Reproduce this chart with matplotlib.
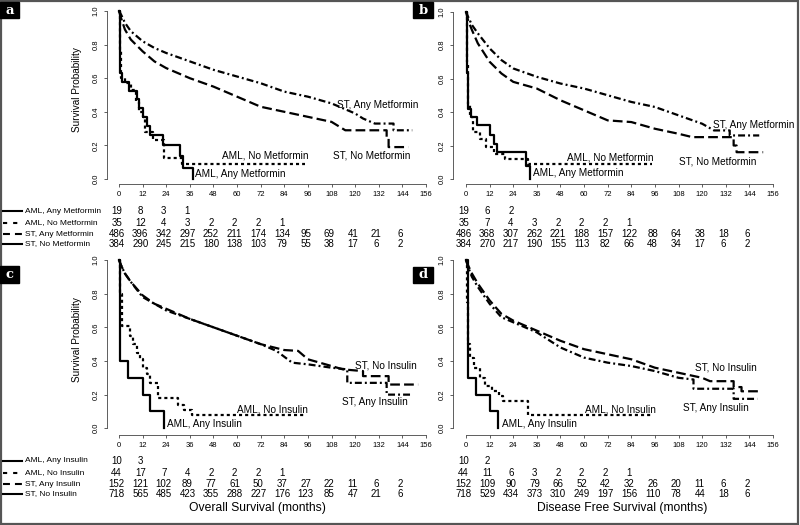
import matplotlib
matplotlib.use('Agg')
import matplotlib.pyplot as plt
from matplotlib import transforms
from matplotlib.lines import Line2D
from matplotlib.patches import Rectangle

plt.rcParams['font.family'] = ['Liberation Sans', 'DejaVu Sans']
plt.rcParams['lines.scale_dashes'] = False

months = list(range(0, 157, 12))
surv_ticks = [0.0, 0.2, 0.4, 0.6, 0.8, 1.0]

met_groups = ['AML, Any Metformin', 'AML, No Metformin', 'ST, Any Metformin', 'ST, No Metformin']
ins_groups = ['AML, Any Insulin', 'AML, No Insulin', 'ST, Any Insulin', 'ST, No Insulin']

# ---- panel a: overall survival, metformin
a_aml_any_t = [0, 0.3, 0.6, 1.5, 5, 9, 10.3, 12, 14, 16, 22.5, 31, 32.3, 37.4]
a_aml_any_s = [1, 0.84, 0.632, 0.579, 0.526, 0.474, 0.421, 0.368, 0.316, 0.263, 0.205, 0.137, 0.068, 0.0]
a_aml_no_t = [0, 0.4, 1, 3, 6, 8.5, 10, 12, 13, 17.5, 22.7, 32, 94.5]
a_aml_no_s = [1, 0.77, 0.6, 0.57, 0.53, 0.46, 0.40, 0.37, 0.28, 0.23, 0.125, 0.09, 0.09]
a_st_any_t = [0, 1, 3, 6, 12, 18, 24, 36, 48, 60, 72, 84, 96, 108, 120, 124, 130, 139.5, 139.5, 149]
a_st_any_s = [1, 0.98, 0.93, 0.88, 0.82, 0.78, 0.75, 0.70, 0.65, 0.61, 0.57, 0.52, 0.49, 0.45, 0.39, 0.36, 0.33, 0.33, 0.29, 0.29]
a_st_no_t = [0, 1, 3, 6, 12, 18, 24, 36, 48, 60, 72, 84, 96, 108, 115, 136, 136, 137, 137, 147]
a_st_no_s = [1, 0.96, 0.89, 0.83, 0.76, 0.70, 0.66, 0.60, 0.55, 0.49, 0.43, 0.40, 0.37, 0.34, 0.29, 0.29, 0.24, 0.24, 0.19, 0.19]
a_risk = [[19, 8, 3, 1],
          [35, 12, 4, 3, 2, 2, 2, 1],
          [486, 396, 342, 297, 252, 211, 174, 134, 95, 69, 41, 21, 6],
          [384, 290, 245, 215, 180, 138, 103, 79, 55, 38, 17, 6, 2]]

# ---- panel b: disease free survival, metformin
b_aml_any_t = [0, 0.5, 1.2, 2.4, 5.4, 12.2, 14.4, 16, 30.5, 32.5]
b_aml_any_s = [1, 0.63, 0.42, 0.37, 0.32, 0.26, 0.21, 0.16, 0.08, 0.0]
b_aml_no_t = [0, 0.5, 1, 2, 3.5, 7, 10, 14, 20, 31.5, 94.5]
b_aml_no_s = [1, 0.7, 0.45, 0.37, 0.28, 0.24, 0.19, 0.15, 0.12, 0.09, 0.09]
b_st_any_t = [0, 1, 3, 6, 12, 18, 24, 36, 48, 60, 72, 84, 96, 108, 120, 126, 134, 134, 149]
b_st_any_s = [1, 0.97, 0.92, 0.87, 0.78, 0.71, 0.66, 0.61, 0.57, 0.54, 0.50, 0.46, 0.43, 0.38, 0.33, 0.29, 0.29, 0.26, 0.26]
b_st_no_t = [0, 1, 3, 6, 12, 18, 24, 36, 48, 60, 72, 84, 96, 108, 115, 136, 136, 137.5, 137.5, 151]
b_st_no_s = [1, 0.95, 0.89, 0.81, 0.70, 0.63, 0.58, 0.54, 0.47, 0.41, 0.35, 0.34, 0.30, 0.27, 0.25, 0.25, 0.20, 0.20, 0.16, 0.16]
b_risk = [[19, 6, 2],
          [35, 7, 4, 3, 2, 2, 2, 1],
          [486, 368, 307, 262, 221, 188, 157, 122, 88, 64, 38, 18, 6],
          [384, 270, 217, 190, 155, 113, 82, 66, 48, 34, 17, 6, 2]]

# ---- panel c: overall survival, insulin
c_aml_any_t = [0, 0.7, 4.8, 12, 16, 22.8]
c_aml_any_s = [1, 0.4, 0.3, 0.2, 0.1, 0.0]
c_aml_no_t = [0, 0.5, 1.5, 5.6, 7, 9, 10.5, 12, 14, 16, 19.6, 30, 33, 37, 94.5]
c_aml_no_s = [1, 0.8, 0.61, 0.55, 0.50, 0.45, 0.41, 0.36, 0.32, 0.27, 0.18, 0.14, 0.11, 0.08, 0.08]
c_st_any_t = [0, 1, 3, 6, 12, 18, 24, 36, 48, 60, 72, 80, 88, 96, 108, 116, 116, 136, 136, 149]
c_st_any_s = [1, 0.97, 0.92, 0.87, 0.78, 0.74, 0.70, 0.65, 0.60, 0.55, 0.50, 0.46, 0.39, 0.38, 0.36, 0.35, 0.27, 0.27, 0.20, 0.20]
c_st_no_t = [0, 1, 3, 6, 12, 18, 24, 36, 48, 60, 72, 84, 91, 96, 108, 113.8, 124, 124, 137, 137, 152]
c_st_no_s = [1, 0.97, 0.92, 0.87, 0.79, 0.74, 0.71, 0.65, 0.60, 0.55, 0.50, 0.465, 0.46, 0.41, 0.37, 0.35, 0.34, 0.31, 0.31, 0.26, 0.26]
c_risk = [[10, 3],
          [44, 17, 7, 4, 2, 2, 2, 1],
          [152, 121, 102, 89, 77, 61, 50, 37, 27, 22, 11, 6, 2],
          [718, 565, 485, 423, 355, 288, 227, 176, 123, 85, 47, 21, 6]]

# ---- panel d: disease free survival, insulin
d_aml_any_t = [0, 1.2, 5, 12, 16.4]
d_aml_any_s = [1, 0.3, 0.2, 0.1, 0.0]
d_aml_no_t = [0, 0.4, 1, 2, 4, 7, 9.7, 13, 17, 19, 31.7, 95]
d_aml_no_s = [1, 0.75, 0.5, 0.42, 0.36, 0.30, 0.25, 0.22, 0.19, 0.16, 0.08, 0.08]
d_st_any_t = [0, 1, 3, 6, 12, 18, 24, 36, 48, 60, 72, 84, 96, 108, 115.6, 115.6, 136, 136, 148]
d_st_any_s = [1, 0.96, 0.90, 0.84, 0.74, 0.66, 0.63, 0.57, 0.48, 0.42, 0.39, 0.37, 0.34, 0.30, 0.29, 0.235, 0.235, 0.175, 0.175]
d_st_no_t = [0, 1, 3, 6, 12, 18, 24, 36, 48, 60, 72, 84, 96, 108, 120, 124, 136, 136, 140, 140, 150]
d_st_no_s = [1, 0.97, 0.92, 0.86, 0.76, 0.68, 0.64, 0.58, 0.52, 0.47, 0.44, 0.41, 0.36, 0.33, 0.30, 0.28, 0.28, 0.245, 0.245, 0.22, 0.22]
d_risk = [[10, 2],
          [44, 11, 6, 3, 2, 2, 2, 1],
          [152, 109, 90, 79, 66, 52, 42, 32, 26, 20, 11, 6, 2],
          [718, 529, 434, 373, 310, 249, 197, 156, 110, 78, 44, 18, 6]]

W, H = 800, 525
styles = ['-', (0, (2.2, 2.2)), (0, (5, 2.2, 1.4, 2.2)), (0, (7, 3))]
legend_styles = ['-', (0, (3, 4.3)), (0, (5, 3.6)), '-']

fig = plt.figure(figsize=(8, 5.25), dpi=100)


def add_panel(left, top, right, bottom, x0, y0, sy):
    sx = 307 / 156
    ax = fig.add_axes([left / W, 1 - bottom / H, (right - left) / W, (bottom - top) / H])
    ax.set_xlim((left - x0) / sx, (right - x0) / sx)
    ax.set_ylim((y0 - bottom) / sy, (y0 - top) / sy)
    ax.patch.set_alpha(0)
    for side in ['top', 'right']:
        ax.spines[side].set_visible(False)
    for side in ['left', 'bottom']:
        ax.spines[side].set_linewidth(0.6)
        ax.spines[side].set_color('#444444')
    ax.spines['left'].set_bounds(0, 1)
    ax.spines['bottom'].set_bounds(0, 156)
    ax.set_xticks(months)
    ax.set_yticks(surv_ticks)
    ax.set_yticklabels(['%.1f' % v for v in surv_ticks])
    ax.tick_params(labelsize=5.5, length=2.2, width=0.6, color='#444444', pad=3)
    ax.tick_params(axis='y', labelrotation=90)
    plt.setp(ax.get_yticklabels(), va='center')
    return ax


panels = [
    (add_panel(107, 5, 438, 184, 119, 179, 168),
     [(a_aml_any_t, a_aml_any_s), (a_aml_no_t, a_aml_no_s), (a_st_any_t, a_st_any_s), (a_st_no_t, a_st_no_s)],
     a_risk, [211, 223, 234, 244]),
    (add_panel(453, 5, 784, 184, 466, 179, 167.5),
     [(b_aml_any_t, b_aml_any_s), (b_aml_no_t, b_aml_no_s), (b_st_any_t, b_st_any_s), (b_st_no_t, b_st_no_s)],
     b_risk, [211, 223, 234, 244]),
    (add_panel(107, 254, 438, 434.5, 119, 428.3, 168.3),
     [(c_aml_any_t, c_aml_any_s), (c_aml_no_t, c_aml_no_s), (c_st_any_t, c_st_any_s), (c_st_no_t, c_st_no_s)],
     c_risk, [461, 473, 484, 494]),
    (add_panel(453, 254, 784, 434.5, 466, 428.3, 168.3),
     [(d_aml_any_t, d_aml_any_s), (d_aml_no_t, d_aml_no_s), (d_st_any_t, d_st_any_s), (d_st_no_t, d_st_no_s)],
     d_risk, [461, 473, 484, 494]),
]

for ax, curves, risk, rows_y in panels:
    for i, (t, s) in enumerate(curves):
        ax.plot(t, s, color='black', lw=1.6, linestyle=styles[i],
                drawstyle='steps-post' if i < 2 else 'default')
    tr = transforms.blended_transform_factory(ax.transData, fig.transFigure)
    for row, py in zip(risk, rows_y):
        for m, n in zip(months, row):
            ax.text(m - 1.2, 1 - py / H, str(n), transform=tr, ha='center', va='center',
                    fontsize=7, clip_on=False)

# group labels next to the curves
curve_labels = [
    ('ST, Any Metformin', 337, 105), ('ST, No Metformin', 333, 155),
    ('AML, No Metformin', 222, 156), ('AML, Any Metformin', 195, 174),
    ('ST, Any Metformin', 713, 125), ('ST, No Metformin', 679, 161),
    ('AML, No Metformin', 567, 157), ('AML, Any Metformin', 533, 173),
    ('ST, No Insulin', 355, 365), ('ST, Any Insulin', 342, 402),
    ('AML, No Insulin', 237, 409), ('AML, Any Insulin', 167, 424),
    ('ST, No Insulin', 695, 368), ('ST, Any Insulin', 683, 408),
    ('AML, No Insulin', 585, 409), ('AML, Any Insulin', 502, 424),
]
for txt, x, y in curve_labels:
    fig.text(x / W, 1 - y / H, txt, fontsize=7.2, ha='left', va='center')

# risk table legends (left side)
for groups, rows_y in [(met_groups, [211, 223, 234, 244]), (ins_groups, [461, 473, 484, 494])]:
    for g, py, ls in zip(groups, rows_y, legend_styles):
        fig.add_artist(Line2D([3 / W, 22 / W], [1 - py / H, 1 - py / H], transform=fig.transFigure,
                              color='black', lw=1.5, linestyle=ls))
        fig.text(25 / W, 1 - py / H, g, fontsize=6, ha='left', va='center')

fig.text(77 / W, 1 - 90 / H, 'Survival Probability', rotation=90, fontsize=7.2, ha='center', va='center')
fig.text(77 / W, 1 - 340 / H, 'Survival Probability', rotation=90, fontsize=7.2, ha='center', va='center')
fig.text(257 / W, 1 - 508 / H, 'Overall Survival (months)', fontsize=8.7, ha='center', va='center')
fig.text(622 / W, 1 - 508 / H, 'Disease Free Survival (months)', fontsize=8.7, ha='center', va='center')

# panel letters
for letter, x, y, w, h in [('a', 0, 2, 19, 16), ('b', 413, 2, 20, 16), ('c', 0, 266, 19, 17), ('d', 413, 267, 20, 16)]:
    fig.add_artist(Rectangle((x / W, 1 - (y + h) / H), w / W, h / H, transform=fig.transFigure,
                             color='black', zorder=5))
    fig.text((x + w / 2) / W, 1 - (y + h / 2) / H, letter, color='white', fontsize=9.5,
             fontweight='bold', family='DejaVu Serif', ha='center', va='center', zorder=6)

fig.add_artist(Rectangle((0.001, 0.002), 0.997, 0.996, transform=fig.transFigure, fill=False,
                         ec='#555555', lw=1.6))

plt.savefig('out.png', dpi=100)
